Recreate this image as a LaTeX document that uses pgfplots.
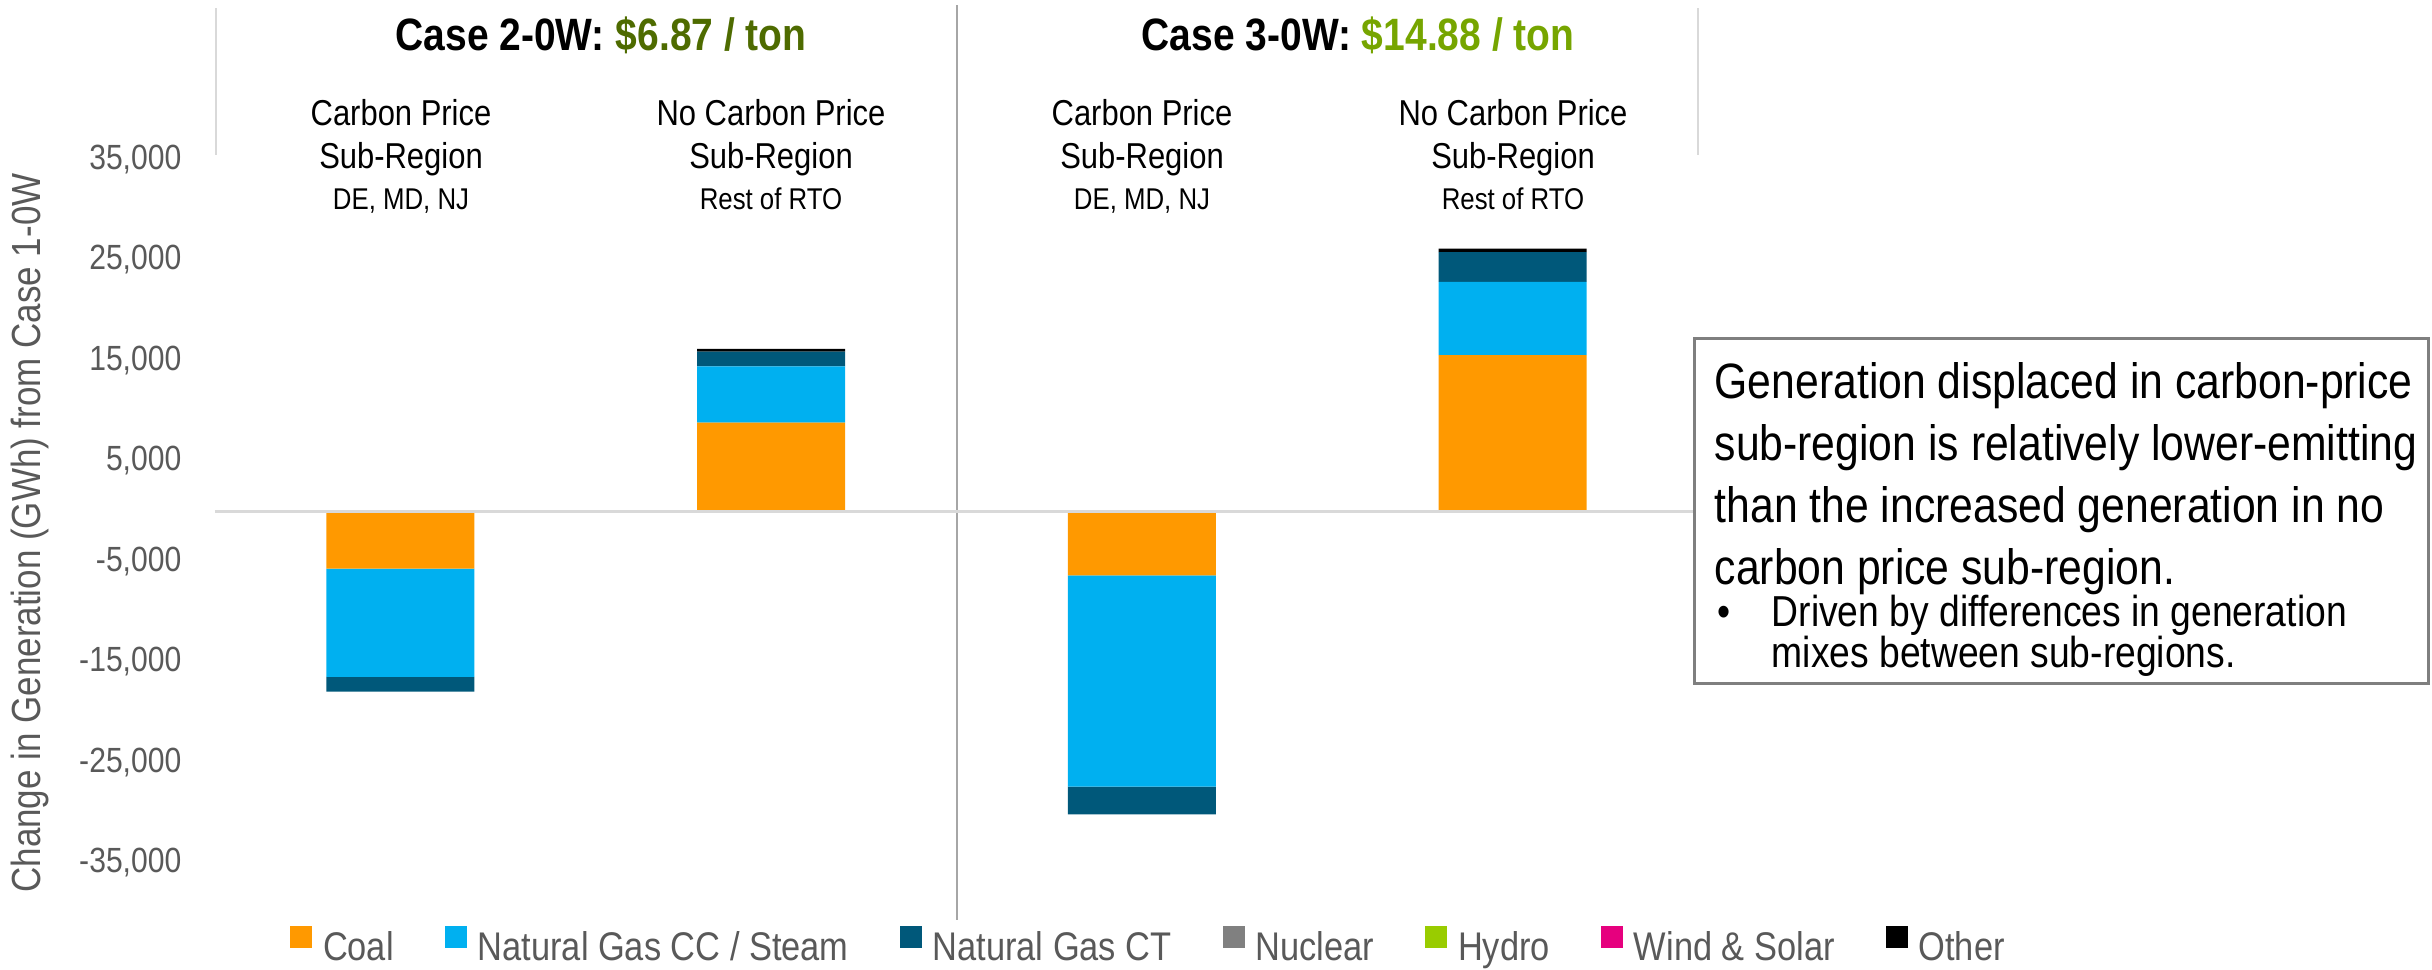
\documentclass[border=0pt]{standalone}
\usepackage{fontspec}
\setmainfont{Liberation Sans}[FakeStretch=0.86]
\usepackage{pgfplots}
\usepackage{pgfplotstable}
\pgfplotsset{compat=1.18}

\definecolor{coal}{HTML}{FF9900}
\definecolor{ngcc}{HTML}{00B0F0}
\definecolor{ngct}{HTML}{00587A}
\definecolor{nuclear}{HTML}{808080}
\definecolor{hydro}{HTML}{99CC00}
\definecolor{wind}{HTML}{E6007E}
\definecolor{other}{HTML}{000000}
\definecolor{greenA}{HTML}{4E6B00}
\definecolor{greenB}{HTML}{76A500}
\definecolor{tickGray}{HTML}{595959}
\definecolor{sepLight}{HTML}{D9D9D9}
\definecolor{sepMid}{HTML}{A6A6A6}
\definecolor{boxGray}{HTML}{7F7F7F}

% change in generation vs Case 1-0W, GWh
\pgfplotstableread{
x  coal   ngcc    ngct   nuclear hydro wind other
0  -5720  -10790  -1460  0       0     0    0
1   8800   5600    1460  0       0     0    270
2  -6400  -21030  -2760  0       0     0    0
3  15500   7300    2960  0       0     0    350
}\gendata

\newcommand{\hdrfont}{\fontsize{13.6pt}{16pt}\selectfont\bfseries}
\newcommand{\subfont}{\fontsize{10.8pt}{13pt}\selectfont}
\newcommand{\smallsub}{\fontsize{9pt}{11pt}\selectfont}
\newcommand{\boxfont}{\fontsize{14.9pt}{16pt}\selectfont}
\newcommand{\bulfont}{\fontsize{13pt}{15pt}\selectfont}

\begin{document}
\begin{tikzpicture}[x=0.3pt,y=-0.3pt]
\useasboundingbox (0,0) rectangle (2432,969);

% separators
\draw[sepLight, line width=0.6pt] (216,8) -- (216,155);
\draw[sepLight, line width=0.6pt] (1698,8) -- (1698,155);
\draw[sepMid, line width=0.6pt] (957,5) -- (957,920);

\begin{axis}[
    at={(64.5pt,-273.9pt)}, anchor=south west,
    scale only axis,
    width=444.9pt, height=241.2pt,
    xmin=-0.5, xmax=3.5,
    ymin=-40000, ymax=40000,
    ybar stacked,
    bar width=44.4pt,
    axis line style={draw=none},
    tick style={draw=none},
    xtick=\empty,
    ytick={-35000,-25000,-15000,-5000,5000,15000,25000,35000},
    scaled y ticks=false,
    yticklabel style={font=\fontsize{10.5pt}{12pt}\selectfont, text=tickGray,
        inner sep=0pt, xshift=-9.9pt},
    /pgf/number format/.cd, 1000 sep={,}, assume math mode=true, /pgfplots/.cd,
    legend columns=-1,
    legend image code/.code={\fill[#1] (0pt,0pt) rectangle (6.6pt,6.6pt);},
    legend style={at={(0.0506,-0.041)}, anchor=west, draw=none, fill=none,
        inner sep=0pt, outer sep=0pt,
        font=\fontsize{12pt}{14pt}\selectfont, text=tickGray,
        nodes={inner sep=0pt},
        /tikz/every even column/.append style={column sep=15.3pt},
        /tikz/every odd column/.append style={column sep=3.3pt}},
]
\draw[sepLight, line width=0.9pt] (axis cs:-0.5,0) -- (axis cs:3.5,0);
\addplot[fill=coal, draw=none] table[x=x, y=coal] {\gendata};
\addplot[fill=ngcc, draw=none] table[x=x, y=ngcc] {\gendata};
\addplot[fill=ngct, draw=none] table[x=x, y=ngct] {\gendata};
\addplot[fill=nuclear, draw=none] table[x=x, y=nuclear] {\gendata};
\addplot[fill=hydro, draw=none] table[x=x, y=hydro] {\gendata};
\addplot[fill=wind, draw=none] table[x=x, y=wind] {\gendata};
\addplot[fill=other, draw=none] table[x=x, y=other] {\gendata};
\legend{Coal, Natural Gas CC / Steam, Natural Gas CT, Nuclear, Hydro, Wind \& Solar, Other}
\end{axis}

% y axis title
\node[rotate=90, font=\fontsize{12.2pt}{14pt}\selectfont, text=tickGray] at (30,533)
    {Change in Generation (GWh) from Case 1-0W};

% case headers
\node[anchor=base, font=\hdrfont] at (601,50) {Case 2-0W: \textcolor{greenA}{\$6.87 / ton}};
\node[anchor=base, font=\hdrfont] at (1358,50) {Case 3-0W: \textcolor{greenB}{\$14.88 / ton}};

% sub-region labels
\foreach \cx/\la/\lc in {401/Carbon Price/{DE, MD, NJ}, 771/No Carbon Price/Rest of RTO,
                         1142/Carbon Price/{DE, MD, NJ}, 1513/No Carbon Price/Rest of RTO} {
  \node[anchor=base, font=\subfont] at (\cx,125) {\la};
  \node[anchor=base, font=\subfont] at (\cx,168) {Sub-Region};
  \node[anchor=base, font=\smallsub] at (\cx,209) {\lc};
}

% comment box
\draw[boxGray, fill=white, line width=0.9pt] (1694,338) rectangle (2428,683);
\node[anchor=base west, font=\boxfont, inner sep=0pt] at (1714,398) {Generation displaced in carbon-price};
\node[anchor=base west, font=\boxfont, inner sep=0pt] at (1714,460) {sub-region is relatively lower-emitting};
\node[anchor=base west, font=\boxfont, inner sep=0pt] at (1714,522) {than the increased generation in no};
\node[anchor=base west, font=\boxfont, inner sep=0pt] at (1714,584) {carbon price sub-region.};
\node[anchor=base west, font=\bulfont, inner sep=0pt] at (1717,626) {•};
\node[anchor=base west, font=\bulfont, inner sep=0pt] at (1771,626) {Driven by differences in generation};
\node[anchor=base west, font=\bulfont, inner sep=0pt] at (1771,667) {mixes between sub-regions.};
\end{tikzpicture}
\end{document}
